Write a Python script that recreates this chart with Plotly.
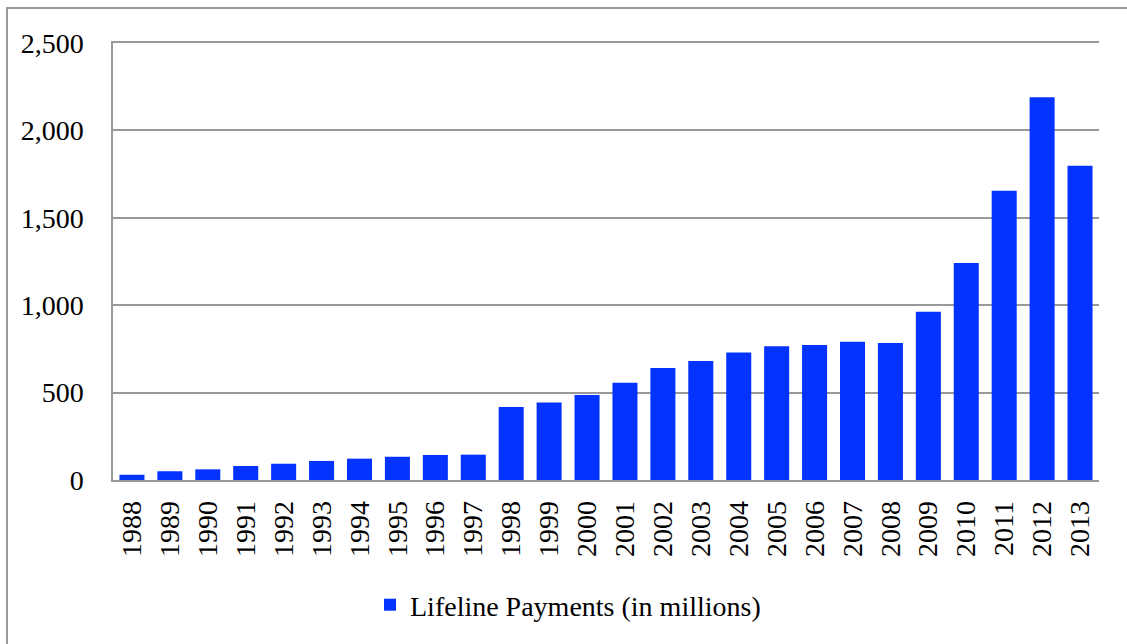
import plotly.graph_objects as go

years = [str(y) for y in range(1988, 2014)]
payments = [30, 50, 61, 80, 93, 109, 122, 133, 143, 145,
            418, 444, 486, 557, 641, 681, 730, 765, 772, 791,
            784, 963, 1241, 1655, 2189, 1798]
series_name = "Lifeline Payments (in millions)"
y_ticks = [0, 500, 1000, 1500, 2000, 2500]
y_tick_labels = ["0", "500", "1,000", "1,500", "2,000", "2,500"]

W, H = 1127, 644
L, R, T, B = 113, 28, 43, 164
pw, ph = W - L - R, H - T - B

def px_x(x):
    return (x - L) / pw

def px_y(y):
    return (H - B - y) / ph

font = dict(family="Liberation Serif, Times New Roman, serif", size=28, color="#000000")

fig = go.Figure()
fig.add_trace(go.Bar(
    x=years, y=payments, name=series_name,
    marker=dict(color="#0433ff", line=dict(width=0)),
    showlegend=True,
))

fig.update_layout(
    width=W, height=H,
    margin=dict(l=L, r=R, t=T, b=B),
    paper_bgcolor="white", plot_bgcolor="white",
    font=font,
    bargap=0.34,
    showlegend=True,
    legend=dict(orientation="h", x=px_x(370), xanchor="left",
                y=px_y(605), yanchor="middle",
                font=font, bgcolor="rgba(0,0,0,0)"),
    xaxis=dict(type="category", tickangle=-90, showgrid=False,
               showline=True, mirror=True, linecolor="#999999", linewidth=1.5,
               ticks="", ticklabelstandoff=8, tickfont=font),
    yaxis=dict(range=[0, 2500], tickvals=y_ticks, ticktext=y_tick_labels,
               showgrid=True, gridcolor="#999999", gridwidth=1.5,
               showline=True, linecolor="#999999", linewidth=1.5,
               zeroline=False, ticks="", ticklabelstandoff=22, tickfont=font),
    shapes=[dict(type="rect", xref="paper", yref="paper",
                 x0=px_x(7), x1=px_x(1150), y0=px_y(8), y1=px_y(700),
                 line=dict(color="#999999", width=2), fillcolor="rgba(0,0,0,0)",
                 layer="below")],
)

fig.write_html("out.html",
               config={"displayModeBar": False},
               post_script="document.body.style.margin='0';document.body.style.overflow='hidden';")
